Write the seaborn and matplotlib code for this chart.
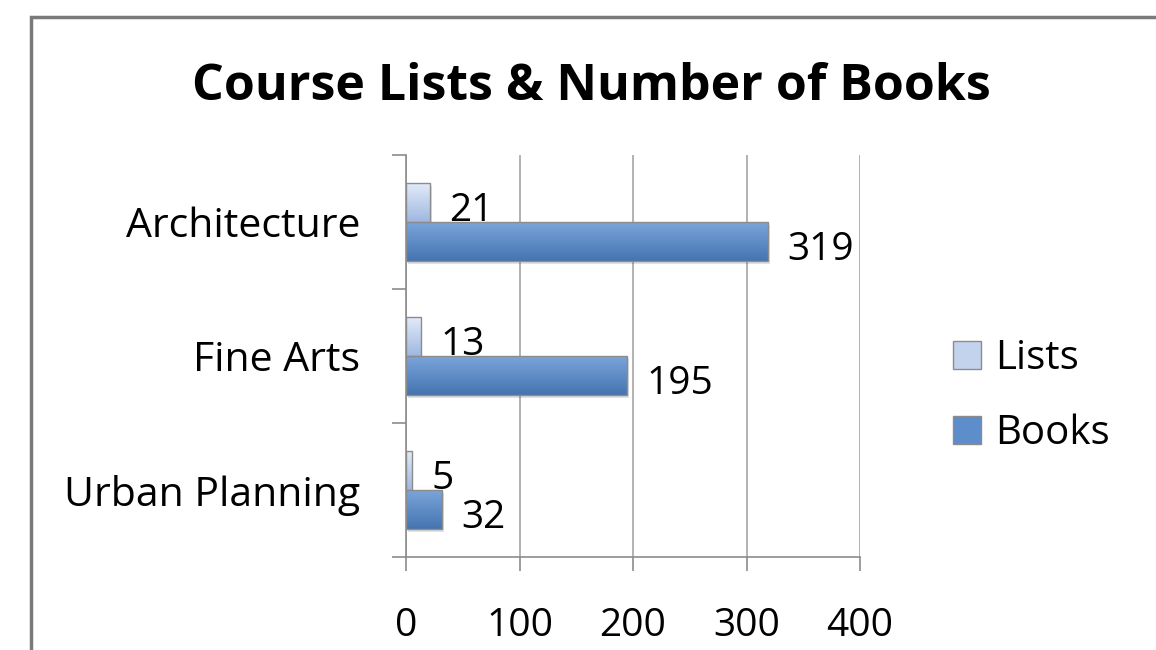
import numpy as np
import pandas as pd
import matplotlib
matplotlib.use("Agg")
import matplotlib.pyplot as plt
import matplotlib.colors as mcolors
from matplotlib.patches import Rectangle
import seaborn as sns

categories = ["Architecture", "Fine Arts", "Urban Planning"]
lists = [21, 13, 5]
books = [319, 195, 32]
series = ["Lists", "Books"]
x_ticks = [0, 100, 200, 300, 400]

df = pd.DataFrame({
    "course": categories * 2,
    "series": ["Lists"] * 3 + ["Books"] * 3,
    "count": lists + books,
})

sns.set_theme(style="white")
plt.rcParams["font.family"] = ["Open Sans", "DejaVu Sans"]
plt.rcParams["text.color"] = "black"

colors = {"Lists": "#c3d3ee", "Books": "#5d8dca"}
grad = {"Lists": ("#e2eaf8", "#9fb8e0"), "Books": ("#7aa5da", "#4574b0")}
FS = 28

fig = plt.figure(figsize=(11.56, 6.5), dpi=100)
ax = fig.add_axes([406 / 1156, 1 - 557 / 650, (860 - 406) / 1156, (557 - 155) / 650])

sns.barplot(data=df, y="course", x="count", hue="series", hue_order=series,
            order=categories, orient="h", width=0.58, palette=colors,
            edgecolor="#8c8c8c", linewidth=1, ax=ax, legend=True)

# gradient fill on top of each bar
for cont, name in zip(ax.containers, series):
    c0, c1 = grad[name]
    cmap = mcolors.LinearSegmentedColormap.from_list(name, [c0, c1])
    for bar in cont:
        x0, y0 = bar.get_x(), bar.get_y()
        w, h = bar.get_width(), bar.get_height()
        g = np.linspace(0, 1, 64).reshape(-1, 1)
        im = ax.imshow(g, cmap=cmap, aspect="auto", extent=[x0, x0 + w, y0 + h, y0],
                       zorder=bar.get_zorder() + 0.1, interpolation="bicubic")
        im.set_clip_path(bar)
        # soft shadow
        ax.add_patch(Rectangle((x0 + 1.5, y0 + 0.02), w, h, facecolor="#000000",
                               alpha=0.12, edgecolor="none", zorder=bar.get_zorder() - 0.1))
        bar.set_facecolor("none")
        bar.set_zorder(bar.get_zorder() + 0.2)

    for bar, val in zip(cont, lists if name == "Lists" else books):
        ax.annotate(str(val), (bar.get_x() + bar.get_width(), bar.get_y() + bar.get_height() / 2),
                    xytext=(14, -6), textcoords="offset points", ha="left", va="center",
                    fontsize=FS, color="black", zorder=10)

ax.set_xlim(0, 400)
ax.set_ylim(2.5, -0.5)
ax.set_xticks(x_ticks)
ax.set_xticklabels([str(t) for t in x_ticks], fontsize=FS)
ax.set_yticks(range(len(categories)))
ax.set_yticklabels(categories, fontsize=29.5)
ax.set_yticks([-0.5, 0.5, 1.5, 2.5], minor=True)
ax.tick_params(axis="y", which="major", length=0, pad=33, labelcolor="black")
ax.tick_params(axis="y", which="minor", length=10, width=1.2, color="#8c8c8c", left=True)
ax.tick_params(axis="x", length=10, width=1.2, color="#8c8c8c", bottom=True, pad=26,
               labelcolor="black")
ax.set_xlabel("")
ax.set_ylabel("")
ax.grid(axis="x", color="#a6a6a6", linewidth=1.2)
ax.set_axisbelow(True)
for s in ["top", "right"]:
    ax.spines[s].set_visible(False)
for s in ["left", "bottom"]:
    ax.spines[s].set_color("#8c8c8c")
    ax.spines[s].set_linewidth(1.2)

leg = ax.legend(loc="center left", bbox_to_anchor=(1.16, 0.40), frameon=False,
                fontsize=29, handlelength=0.7, handleheight=0.7, handletextpad=0.35,
                labelspacing=0.85, borderpad=0)
for h, name in zip(leg.legend_handles, series):
    h.set_facecolor(colors[name])
    h.set_edgecolor("#8c8c8c")

fig.text(591 / 1156, 1 - 87 / 650, "Course Lists & Number of Books", ha="center", va="center",
         fontsize=36, fontweight="bold", color="black")

fig.patches.append(Rectangle((31 / 1156, -0.2), 1.2, 1.2 - 17 / 650, transform=fig.transFigure,
                             fill=False, edgecolor="#7a7a7a", linewidth=2.5, figure=fig))

fig.savefig("out.png", dpi=100)
